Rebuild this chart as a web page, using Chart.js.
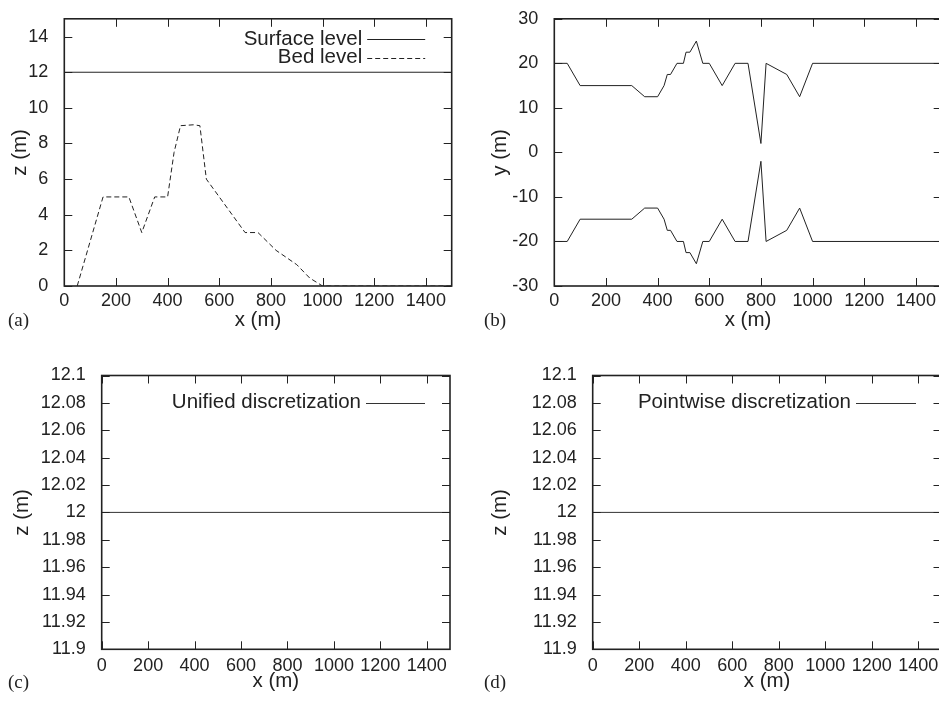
<!DOCTYPE html>
<html>
<head>
<meta charset="utf-8">
<script src="https://cdn.jsdelivr.net/npm/chart.js@4.4.0/dist/chart.umd.min.js"></script>
<style>
  html, body { margin: 0; padding: 0; background: #fff; overflow: hidden; }
  body { width: 939px; height: 701px; position: relative; }
  canvas { position: absolute; }
  .tag { position: absolute; font-family: 'Liberation Serif', 'Times New Roman', serif; font-size: 19px; color: #222; line-height: 20px; }
</style>
</head>
<body>
<canvas id="panelA" width="470" height="345" style="left:0;top:0"></canvas>
<canvas id="panelB" width="480" height="345" style="left:470px;top:0"></canvas>
<canvas id="panelC" width="470" height="356" style="left:0;top:345px"></canvas>
<canvas id="panelD" width="480" height="356" style="left:470px;top:345px"></canvas>
<div class="tag" style="left:8px;top:310px">(a)</div>
<div class="tag" style="left:484px;top:310px">(b)</div>
<div class="tag" style="left:8px;top:672px">(c)</div>
<div class="tag" style="left:484px;top:672px">(d)</div>
<script>
// Chainage along the channel (m) and tick values shared by all panels.
const xTicks = [0, 200, 400, 600, 800, 1000, 1200, 1400];

// Panel (a): longitudinal profile.
const xSurface = [0, 1500];
const zSurface = [12, 12];
const xBed = [50, 150, 250, 300, 350, 400, 425, 450, 500, 525, 550, 575, 700, 750, 820, 900, 950, 1000, 1500];
const zBed = [0, 5, 5, 3, 5, 5, 7.5, 9, 9.05, 9, 6, 5.5, 3, 3, 2, 1.2, 0.45, 0, 0];
const zTicksA = [0, 2, 4, 6, 8, 10, 12, 14];

// Panel (b): channel banks in plan view.
const xBank = [0, 50, 100, 300, 350, 400, 425, 437.5, 450, 475, 500, 510, 525, 550, 575, 600, 650, 700, 750, 800, 820, 900, 950, 1000, 1500];
const yBankLeft = [20, 20, 15, 15, 12.5, 12.5, 15, 17.5, 17.5, 20, 20, 22.5, 22.5, 25, 20, 20, 15, 20, 20, 2, 20, 17.5, 12.5, 20, 20];
const yBankRight = [-20, -20, -15, -15, -12.5, -12.5, -15, -17.5, -17.5, -20, -20, -22.5, -22.5, -25, -20, -20, -15, -20, -20, -2, -20, -17.5, -12.5, -20, -20];
const yTicksB = [-30, -20, -10, 0, 10, 20, 30];

// Panels (c) and (d): computed free surface.
const xUnified = [0, 1500];
const zUnified = [12, 12];
const xPointwise = [0, 1500];
const zPointwise = [12, 12];
const zTicksCD = [11.9, 11.92, 11.94, 11.96, 11.98, 12, 12.02, 12.04, 12.06, 12.08, 12.1];
const zLabelsCD = ['11.9', '11.92', '11.94', '11.96', '11.98', '12', '12.02', '12.04', '12.06', '12.08', '12.1'];

const INK = '#222';
const FAMILY = "'Liberation Sans', Arial, Helvetica, sans-serif";
Chart.defaults.font.family = FAMILY;
Chart.defaults.font.size = 18;
Chart.defaults.color = INK;
Chart.defaults.animation = false;

function toPoints(xs, ys) {
    return xs.map(function (x, i) { return { x: x, y: ys[i] }; });
}

// gnuplot style frame: box around the plot, ticks pointing inwards on all four sides.
const framePlugin = {
    id: 'frame',
    afterDatasetsDraw: function (chart) {
        const ctx = chart.ctx;
        const a = chart.chartArea;
        const len = 8;
        ctx.save();
        ctx.strokeStyle = INK;
        ctx.lineWidth = 1;
        ctx.beginPath();
        chart.scales.x.ticks.forEach(function (t) {
            const px = Math.round(chart.scales.x.getPixelForValue(t.value)) + 0.5;
            ctx.moveTo(px, a.bottom); ctx.lineTo(px, a.bottom - len);
            ctx.moveTo(px, a.top); ctx.lineTo(px, a.top + len);
        });
        chart.scales.y.ticks.forEach(function (t) {
            const py = Math.round(chart.scales.y.getPixelForValue(t.value)) + 0.5;
            ctx.moveTo(a.left, py); ctx.lineTo(a.left + len, py);
            ctx.moveTo(a.right, py); ctx.lineTo(a.right - len, py);
        });
        ctx.stroke();
        ctx.lineWidth = 1.6;
        ctx.strokeRect(a.left, a.top, a.right - a.left, a.bottom - a.top);
        ctx.restore();
    }
};

// Key in the top right corner: right aligned text followed by a line sample.
const keyPlugin = {
    id: 'key',
    afterDraw: function (chart, args, opts) {
        if (!opts.rows) return;
        const ctx = chart.ctx;
        const a = chart.chartArea;
        ctx.save();
        ctx.font = '20.5px ' + FAMILY;
        ctx.fillStyle = INK;
        ctx.textAlign = 'right';
        ctx.textBaseline = 'middle';
        opts.rows.forEach(function (dsIndex, i) {
            const ds = chart.data.datasets[dsIndex];
            const y = a.top + opts.top + i * opts.step;
            const x1 = a.right - opts.right;
            const x0 = x1 - opts.sample;
            ctx.fillText(ds.label, x0 - 5, y);
            ctx.strokeStyle = ds.borderColor;
            ctx.lineWidth = 1;
            ctx.setLineDash(ds.borderDash || []);
            ctx.beginPath();
            ctx.moveTo(x0, Math.round(y) + 0.5);
            ctx.lineTo(x1, Math.round(y) + 0.5);
            ctx.stroke();
        });
        ctx.restore();
    }
};

function makePanel(id, cfg) {
    const canvas = document.getElementById(id);
    return new Chart(canvas.getContext('2d'), {
        type: 'line',
        data: { datasets: cfg.datasets },
        options: {
            responsive: false,
            layout: { padding: { left: 0, top: cfg.padTop, right: cfg.padRight, bottom: 0 } },
            plugins: {
                legend: { display: false },
                tooltip: { enabled: false },
                key: cfg.key || {}
            },
            elements: { point: { radius: 0 }, line: { borderWidth: 1, tension: 0 } },
            scales: {
                x: {
                    type: 'linear',
                    min: 0,
                    max: 1500,
                    grid: { display: false },
                    border: { display: false },
                    ticks: {
                        padding: cfg.xTickPad,
                        maxRotation: 0,
                        autoSkip: false,
                        callback: function (v) { return String(v); }
                    },
                    afterBuildTicks: function (s) { s.ticks = xTicks.map(function (v) { return { value: v }; }); },
                    afterFit: function (s) { s.height = cfg.xHeight; },
                    title: { display: true, text: 'x (m)', font: { size: 20.5 }, padding: { top: 0, bottom: cfg.xTitlePad } }
                },
                y: {
                    type: 'linear',
                    min: cfg.yMin,
                    max: cfg.yMax,
                    grid: { display: false },
                    border: { display: false },
                    ticks: {
                        padding: 8,
                        autoSkip: false,
                        callback: function (v) { return cfg.yLabel(v); }
                    },
                    afterBuildTicks: function (s) { s.ticks = cfg.yTicks.map(function (v) { return { value: v }; }); },
                    afterFit: function (s) { s.width = cfg.yWidth; },
                    title: { display: true, text: cfg.yTitle, font: { size: 20.5 }, padding: { top: cfg.yTitlePad, bottom: 0 } }
                }
            }
        },
        plugins: [framePlugin, keyPlugin]
    });
}

function plainLabel(v) { return String(v); }
function cdLabel(v) {
    const i = zTicksCD.findIndex(function (t) { return Math.abs(t - v) < 1e-6; });
    return i >= 0 ? zLabelsCD[i] : '';
}

makePanel('panelA', {
    datasets: [
        { label: 'Surface level', data: toPoints(xSurface, zSurface), borderColor: INK },
        { label: 'Bed level', data: toPoints(xBed, zBed), borderColor: INK, borderDash: [5, 3] }
    ],
    yMin: 0, yMax: 15, yTicks: zTicksA, yLabel: plainLabel, yTitle: 'z (m)',
    padTop: 12.7, padRight: 18.3, yWidth: 64.3, xHeight: 59,
    xTickPad: -4, xTitlePad: 12.7, yTitlePad: 7.7,
    key: { rows: [0, 1], top: 20.5, step: 18.5, right: 26.5, sample: 58 }
});

makePanel('panelB', {
    datasets: [
        { label: 'Left bank', data: toPoints(xBank, yBankLeft), borderColor: INK },
        { label: 'Right bank', data: toPoints(xBank, yBankRight), borderColor: INK }
    ],
    yMin: -30, yMax: 30, yTicks: yTicksB, yLabel: plainLabel, yTitle: 'y (m)',
    padTop: 12.7, padRight: 8.3, yWidth: 84.3, xHeight: 59,
    xTickPad: -4, xTitlePad: 12.7, yTitlePad: 17.7
});

makePanel('panelC', {
    datasets: [
        { label: 'Unified discretization', data: toPoints(xUnified, zUnified), borderColor: '#333' }
    ],
    yMin: 11.9, yMax: 12.1, yTicks: zTicksCD, yLabel: cdLabel, yTitle: 'z (m)',
    padTop: 30.5, padRight: 20, yWidth: 101.7, xHeight: 51.7,
    xTickPad: -2, xTitlePad: 7, yTitlePad: 9.7,
    key: { rows: [0], top: 27, step: 18.5, right: 25, sample: 59 }
});

makePanel('panelD', {
    datasets: [
        { label: 'Pointwise discretization', data: toPoints(xPointwise, zPointwise), borderColor: '#333' }
    ],
    yMin: 11.9, yMax: 12.1, yTicks: zTicksCD, yLabel: cdLabel, yTitle: 'z (m)',
    padTop: 30.5, padRight: 8.5, yWidth: 122.7, xHeight: 51.7,
    xTickPad: -2, xTitlePad: 7, yTitlePad: 17.7,
    key: { rows: [0], top: 27, step: 18.5, right: 25.5, sample: 60 }
});
</script>
</body>
</html>
